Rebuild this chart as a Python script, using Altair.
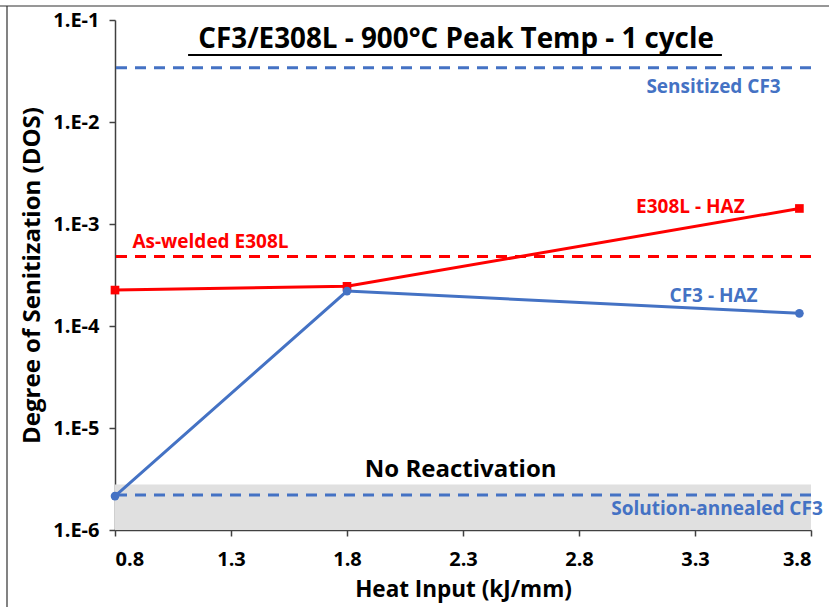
import altair as alt
import pandas as pd

# Measured degree of sensitization versus heat input
heat_input = [0.8, 1.8, 3.75]
e308l_haz = [2.25e-4, 2.45e-4, 1.42e-3]
cf3_haz = [2.15e-6, 2.2e-4, 1.33e-4]

# Reference levels
ref_names = ["Sensitized CF3", "As-welded E308L", "Solution-annealed CF3"]
ref_values = [3.4e-2, 4.8e-4, 2.2e-6]
ref_colors = ["#4472C4", "#FF0000", "#4472C4"]

# "No Reactivation" band
band_low, band_high = 1e-6, 2.8e-6

FONT = "Open Sans"
BLUE = "#4472C4"
RED = "#FF0000"
AXIS = "#404040"

x_scale = alt.Scale(domain=[0.8, 3.8], nice=False, zero=False)
y_scale = alt.Scale(type="log", domain=[1e-6, 1e-1], nice=False)

series_names = ["E308L - HAZ", "CF3 - HAZ"]
series = pd.DataFrame(
    {
        "x": heat_input * 2,
        "y": e308l_haz + cf3_haz,
        "series": [series_names[0]] * 3 + [series_names[1]] * 3,
    }
)

x_enc = alt.X(
    "x:Q",
    scale=x_scale,
    axis=alt.Axis(
        title="Heat Input (kJ/mm)",
        values=[0.8, 1.3, 1.8, 2.3, 2.8, 3.3, 3.8],
        format=".1f",
        grid=False,
        domainColor=AXIS,
        domainWidth=1.5,
        tickColor=AXIS,
        tickWidth=1.5,
        tickSize=6,
        labelFont=FONT,
        labelFontSize=20,
        labelFontWeight="bold",
        labelColor="black",
        labelPadding=13,
        titleFont=FONT,
        titleFontSize=22.5,
        titleFontWeight="bold",
        titleColor="black",
        titlePadding=9,
    ),
)
y_enc = alt.Y(
    "y:Q",
    scale=y_scale,
    axis=alt.Axis(
        title="Degree of Senitization (DOS)",
        values=[1e-6, 1e-5, 1e-4, 1e-3, 1e-2, 1e-1],
        labelExpr="'1.E-' + round(-log(datum.value) / LN10)",
        grid=False,
        domainColor=AXIS,
        domainWidth=1.5,
        tickColor=AXIS,
        tickWidth=1.5,
        tickSize=6,
        labelFont=FONT,
        labelFontSize=20,
        labelFontWeight="bold",
        labelColor="black",
        labelPadding=10,
        titleFont=FONT,
        titleFontSize=24,
        titleFontWeight="bold",
        titleColor="black",
        titlePadding=8,
    ),
)

band = (
    alt.Chart(pd.DataFrame({"x": [0.8], "x2": [3.8], "y": [band_low], "y2": [band_high]}))
    .mark_rect(color="#E0E0E0")
    .encode(x=x_enc, x2="x2:Q", y=y_enc, y2="y2:Q")
)

refs = (
    alt.Chart(pd.DataFrame({"name": ref_names, "y": ref_values, "color": ref_colors}))
    .mark_rule(strokeWidth=3, strokeDash=[11, 8])
    .encode(y=alt.Y("y:Q", scale=y_scale), color=alt.Color("color:N", scale=None))
)

series_color = alt.Color(
    "series:N",
    scale=alt.Scale(domain=series_names, range=[RED, BLUE]),
    legend=None,
)

lines = (
    alt.Chart(series)
    .mark_line(strokeWidth=3)
    .encode(
        x=alt.X("x:Q", scale=x_scale),
        y=alt.Y("y:Q", scale=y_scale),
        color=series_color,
    )
)

pts = (
    alt.Chart(series)
    .mark_point(filled=True, opacity=1, size=75)
    .encode(
        x=alt.X("x:Q", scale=x_scale),
        y=alt.Y("y:Q", scale=y_scale),
        color=series_color,
        shape=alt.Shape(
            "series:N",
            scale=alt.Scale(domain=series_names, range=["square", "circle"]),
            legend=None,
        ),
    )
)

# Annotation texts
labels = pd.DataFrame(
    {
        "text": [
            "Sensitized CF3",
            "As-welded E308L",
            "E308L - HAZ",
            "CF3 - HAZ",
            "Solution-annealed CF3",
        ],
        "x": [3.38, 0.875, 3.28, 3.38, 3.395],
        "y": [2.2e-2, 6.7e-4, 1.47e-3, 1.97e-4, 1.6e-6],
        "color": [BLUE, RED, RED, BLUE, BLUE],
        "align": ["center", "left", "center", "center", "center"],
    }
)


def label_layer(df, align, size):
    return (
        alt.Chart(df)
        .mark_text(font=FONT, fontWeight="bold", fontSize=size, align=align, baseline="middle")
        .encode(
            x=alt.X("x:Q", scale=x_scale),
            y=alt.Y("y:Q", scale=y_scale),
            text="text:N",
            color=alt.Color("color:N", scale=None),
        )
    )


center_labels = label_layer(labels[labels["align"] == "center"], "center", 19)
left_labels = label_layer(labels[labels["align"] == "left"], "left", 19)

no_react = (
    alt.Chart(pd.DataFrame({"text": ["No Reactivation"], "x": [2.29], "y": [3.9e-6]}))
    .mark_text(font=FONT, fontWeight="bold", fontSize=24, color="black", baseline="middle")
    .encode(x=alt.X("x:Q", scale=x_scale), y=alt.Y("y:Q", scale=y_scale), text="text:N")
)

title_text = (
    alt.Chart(pd.DataFrame({"text": ["CF3/E308L - 900°C Peak Temp - 1 cycle"], "x": [2.27], "y": [0.064]}))
    .mark_text(font=FONT, fontWeight="bold", fontSize=27.8, color="black", baseline="middle")
    .encode(x=alt.X("x:Q", scale=x_scale), y=alt.Y("y:Q", scale=y_scale), text="text:N")
)

title_underline = (
    alt.Chart(pd.DataFrame({"x": [1.115], "x2": [3.416], "y": [0.0454]}))
    .mark_rule(color="black", strokeWidth=2)
    .encode(x=alt.X("x:Q", scale=x_scale), x2="x2:Q", y=alt.Y("y:Q", scale=y_scale))
)

# Thin frame along the top and left edges of the figure
frame_top = (
    alt.Chart(pd.DataFrame({"k": [0]}))
    .mark_rule(color="#303030", strokeWidth=1.2)
    .encode(x=alt.value(-115), x2=alt.value(714), y=alt.value(-14))
)
frame_left = (
    alt.Chart(pd.DataFrame({"k": [0]}))
    .mark_rule(color="#303030", strokeWidth=1.2)
    .encode(x=alt.value(-108), y=alt.value(-14), y2=alt.value(587))
)

chart = (
    alt.layer(
        band, refs, lines, pts, center_labels, left_labels, no_react,
        title_text, title_underline, frame_top, frame_left,
    )
    .properties(
        width=696,
        height=510,
        autosize=alt.AutoSizeParams(type="none"),
        padding={"left": 115, "top": 20, "right": 18, "bottom": 77},
        background="white",
    )
    .configure_view(stroke=None)
)

chart.save("out.html", embed_options={"renderer": "svg", "actions": False})
